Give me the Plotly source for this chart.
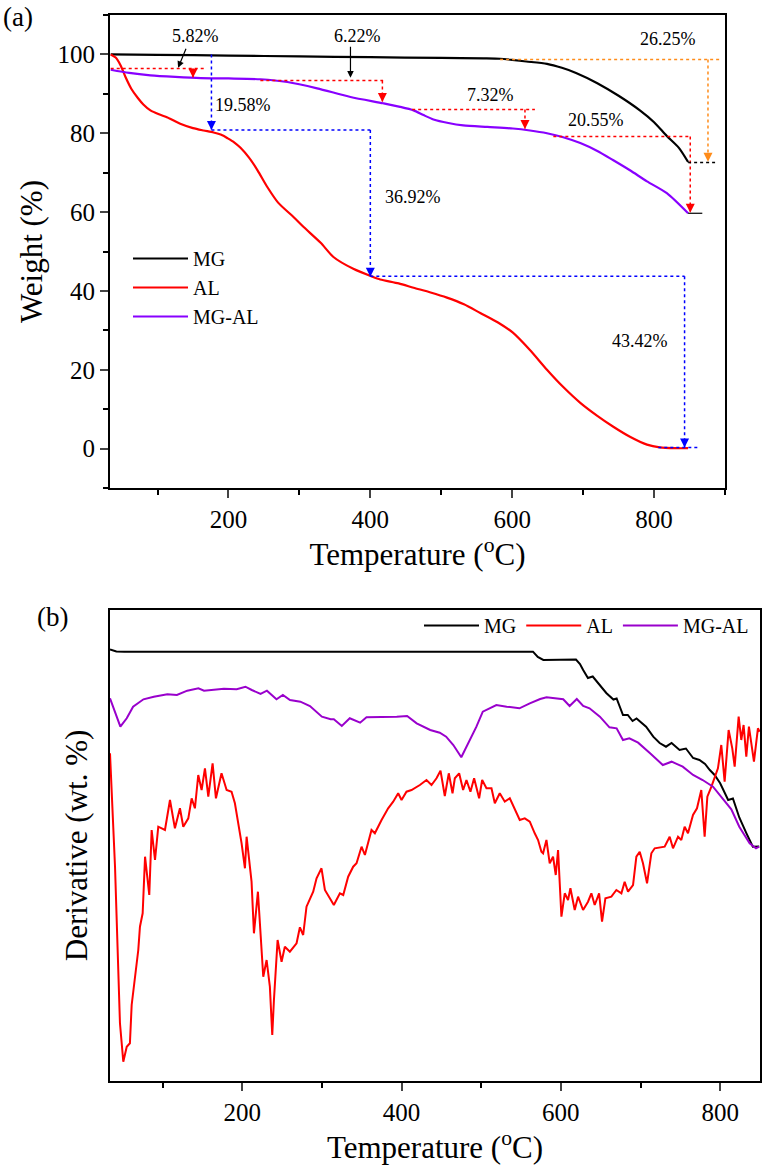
import plotly.graph_objects as go

FONT = "Liberation Serif"
W, H = 774, 1165

# ---------------- (a) TG curves ----------------
TEMP_MG = [34, 100, 200, 300, 400, 500, 560, 583, 600, 620, 649, 670, 690, 720, 750, 780, 800, 818, 835, 848]
WT_MG = [100.0, 99.9, 99.7, 99.5, 99.3, 99.1, 99.0, 98.9, 98.6, 98.2, 97.6, 96.6, 95.3, 92.7, 89.5, 85.8, 82.8, 79.3, 76.3, 72.7]

TEMP_AL = [34, 41, 48, 55, 63, 72, 80, 90, 102, 114, 132, 150, 165, 179, 190, 199, 208, 217, 229, 241,
           255, 270, 292, 306, 330, 348, 376, 403, 414, 440, 461, 485, 508, 532, 555, 580, 601, 625, 649, 672,
           696, 720, 742, 766, 790, 808, 830, 848]
WT_AL = [100, 99.2, 97.2, 94.2, 91.3, 89.0, 87.3, 85.8, 84.8, 84.0, 82.4, 81.3, 80.7, 80.2, 79.6, 78.7, 77.7, 76.3, 73.8, 70.6,
         66.3, 62.4, 58.7, 56.2, 52.2, 48.6, 45.6, 43.6, 42.9, 41.9, 40.8, 39.6, 38.3, 36.6, 34.4, 32.0, 29.4, 25.0, 20.0, 15.6,
         11.6, 8.3, 5.6, 3.0, 1.0, 0.3, 0.1, 0.1]

TEMP_MGAL = [34, 60, 90, 125, 161, 200, 245, 283, 325, 372, 418, 442, 461, 475, 489, 510, 531, 565, 601, 625,
             649, 672, 696, 720, 742, 766, 790, 818, 848]
WT_MGAL = [96.1, 95.3, 94.7, 94.3, 94.0, 93.9, 93.7, 93.0, 91.4, 89.2, 87.6, 86.7, 85.8, 84.6, 83.5, 82.6, 82.0, 81.6, 81.2, 80.7,
           80.0, 79.0, 77.5, 75.5, 73.2, 70.6, 67.8, 64.8, 59.7]

# ---------------- (b) DTG curves (arbitrary units) ----------------
DT_MG = [34, 42, 52, 565, 571, 578, 619, 624, 628, 634, 640, 649, 657, 666, 670, 678, 684, 690, 695, 707,
         716, 724, 732, 739, 749, 757, 766, 774, 781, 787, 793, 800, 810, 816, 824, 833, 841, 849]
D_MG = [-39.5, -41.5, -41.7, -41.7, -47, -50, -49.5, -54, -60, -68, -66.5, -75, -83, -89.5, -88.5, -105, -105, -111, -108.5, -116.7,
        -126.7, -133, -136.7, -133, -140, -138.5, -148, -150, -154, -160, -165, -173.3, -190, -188.5, -207.5, -223.3, -236.7, -236.5]

DT_AL = [34, 40.3, 46.5, 50.7, 55, 59, 61.2, 65.4, 69.5, 71.6, 75, 78, 83.3, 86.3, 90.5, 94.6, 103, 109.3, 115.5, 121.8,
         126, 132.3, 136.5, 140.6, 144.8, 149, 153.2, 157.4, 162.8, 167, 174, 180.4, 186.6, 190.8, 195, 199.2, 203.4, 205.5, 211.7, 214.7,
         219.7, 224.3, 226.4, 230.6, 234.7, 237.7, 239.8, 244.4, 249.4, 253.5, 259.8, 268.2, 272.4, 276.5, 280.7, 289.1, 293.3, 299.5, 303.8, 315,
         322.6, 326.8, 333, 339.3, 343.5, 349.8, 354, 362.3, 366.5, 374.9, 383.2, 389.5, 395.8, 400, 406.2, 412.5, 423, 431.3, 437.6, 443.9,
         448.9, 454.3, 459.3, 464, 466.9, 472.3, 477.3, 481.5, 486.5, 491.1, 497.4, 501.2, 506.6, 512.9, 517.1, 523.3, 529.6, 535.9, 542.2, 548.4,
         554.7, 561, 567.2, 571.4, 575.6, 577.7, 581.9, 586, 590.2, 593.6, 596.5, 600.7, 604.9, 609, 612, 617.4, 621.6, 627.9, 634.1, 638.3,
         642.5, 648, 651.7, 655.9, 663.4, 669.7, 676, 680.1, 684.3, 690.6, 694.8, 699, 703.1, 708.2, 713.6, 717.8, 730.3, 736.6, 740.8, 747.1,
         751.2, 755.4, 759.6, 765.9, 770.9, 776.3, 780.5, 783.9, 789, 797.2, 801.4, 805.6, 810.6, 815.2, 818.2, 823.2, 826.5, 829.4, 832.8, 836.1,
         842.4, 847.4, 849.5]
D_AL = [-143.3, -256.7, -413.3, -451.7, -436.7, -433.3, -395, -370, -340, -316.7, -303.3, -246.7, -285, -220, -250, -216.7, -220, -190, -218.3, -198.3,
        -216.7, -208.3, -188.3, -198.3, -165, -180, -158.3, -186.7, -153.3, -188.3, -163.3, -180, -181.7, -193.3, -213.3, -233.3, -258.3, -226.7, -271.7, -323.3,
        -281.7, -341.7, -366.7, -350, -376.7, -425, -390, -330, -351.7, -336.7, -341.7, -333.3, -317.3, -325, -296.7, -281.7, -268.3, -258.3, -280, -295,
        -283.3, -285, -266.7, -256.7, -253.3, -236.7, -245, -220, -223.3, -210, -198.3, -191.7, -183.3, -190, -181.7, -180, -175, -170, -175, -168.3,
        -160.7, -186, -163.3, -183.3, -168.3, -163.3, -180, -170, -181.7, -168.3, -188.3, -170, -178.3, -178.3, -193.3, -183.3, -191.7, -188.3, -200, -210,
        -208.3, -211.7, -223.3, -230, -241.7, -243.3, -230, -253.3, -246.7, -265, -240, -306.7, -283.3, -290, -278.3, -300, -286.7, -300, -291.7, -283.3,
        -295, -283.3, -311.7, -288.3, -286.7, -280, -283.3, -271.7, -281.7, -275, -246.7, -241.7, -253.3, -273.3, -243.3, -238.3, -236.7, -226.7, -238.3, -226.7,
        -230, -216.7, -223.3, -205, -198.3, -180, -226.7, -186.7, -176.7, -158.3, -135, -171.7, -120, -138.3, -156.7, -106.7, -130, -115, -146.7, -116.7,
        -151.7, -118.3, -121.7]

DT_MGAL = [34, 47, 55, 63, 76, 89, 106, 118, 131, 145, 152, 177, 193, 204, 212, 223, 231, 243, 251, 260,
           273, 285, 300, 311, 315, 325, 335, 348, 356, 381, 394, 407, 419, 436, 448, 456, 465, 475, 484, 494,
           502, 519, 532, 548, 561, 574, 582, 603, 611, 620, 628, 636, 649, 661, 670, 678, 686, 697, 712, 728,
           739, 753, 766, 778, 791, 804, 814, 824, 837, 845, 849]
D_MGAL = [-88.3, -116.7, -108.3, -96.7, -89.3, -86.7, -84.3, -85, -80.7, -78.3, -80.7, -78.7, -79.3, -76.7, -80, -84, -80.7, -89.3, -85, -90,
          -91.7, -96, -106.7, -109.3, -109.3, -116, -108.3, -112.7, -107.3, -107.3, -106.7, -106, -113.3, -120, -122.7, -126.7, -135, -147.3, -133.3, -116.7,
          -101.7, -95, -96.7, -98.3, -93.3, -89, -87.3, -89.3, -96, -89, -96, -98.3, -106.7, -117.3, -118.3, -130, -128.3, -132.7, -143.3, -155,
          -151.7, -156.7, -165, -170, -176.7, -190, -199.3, -216.7, -233.3, -238.3, -236.7]

X_TITLE = "Temperature (<sup>o</sup>C)"

# mass-loss annotation labels (temperature, weight, text)
LABELS = [(154, 104.8, "5.82%"), (382, 104.8, "6.22%"), (220, 87.1, "19.58%"), (460, 63.9, "36.92%"),
          (780, 27.2, "43.42%"), (570, 89.6, "7.32%"), (718, 83.3, "20.55%"), (820, 104.0, "26.25%")]

RED, BLUE, ORANGE, BLACK = "#ff0000", "#0000ff", "#ff8c1a", "#000000"
PURPLE_A, PURPLE_B = "#8800ff", "#9900cc"

# dotted guide segments: (T0, W0, T1, W1, colour)
GUIDES = [
    (34, 96.4, 166, 96.4, RED), (150, 96.4, 150, 94.2, RED),
    (245, 93.4, 418, 93.4, RED), (417, 93.4, 417, 88.0, RED),
    (459, 86.0, 632, 86.0, RED), (618, 86.0, 618, 81.2, RED),
    (658, 79.2, 851, 79.2, RED), (851, 79.2, 851, 59.9, RED),
    (176, 100, 176, 80.9, BLUE), (176, 80.8, 400, 80.8, BLUE), (400, 80.8, 400, 43.7, BLUE),
    (400, 43.7, 843, 43.7, BLUE), (843, 43.7, 843, 0.4, BLUE), (806, 0.3, 862, 0.3, BLUE),
    (583, 98.7, 893, 98.7, ORANGE), (876, 98.7, 876, 72.9, ORANGE),
    (848, 72.6, 886, 72.6, BLACK),
]
TIPS = [(150, 94.1, RED), (417, 87.9, RED), (618, 81.1, RED), (851, 59.8, RED),
        (176, 80.8, BLUE), (400, 43.6, BLUE), (843, 0.3, BLUE), (876, 72.8, ORANGE)]
BLACK_ARROWS = [(141, 101.8, 129, 96.6), (372, 102.3, 372, 94.1)]

fig = go.Figure()

# panel (a)
for t, w, name, col in [(TEMP_MG, WT_MG, "MG", BLACK), (TEMP_AL, WT_AL, "AL", RED), (TEMP_MGAL, WT_MGAL, "MG-AL", PURPLE_A)]:
    fig.add_trace(go.Scatter(x=t, y=w, mode="lines", name=name,
                             line=dict(color=col, width=2.2, shape="spline", smoothing=0.7),
                             xaxis="x", yaxis="y", legend="legend"))

for c in [RED, BLUE, ORANGE]:
    pts = [p for p in TIPS if p[2] == c]
    fig.add_trace(go.Scatter(x=[p[0] for p in pts], y=[p[1] for p in pts], mode="markers",
                             marker=dict(symbol="arrow-down", size=9, color=c, line=dict(width=0)),
                             showlegend=False, xaxis="x", yaxis="y", hoverinfo="skip"))

# panel (b)
for t, d, name, col in [(DT_MG, D_MG, "MG", BLACK), (DT_AL, D_AL, "AL", RED), (DT_MGAL, D_MGAL, "MG-AL", PURPLE_B)]:
    fig.add_trace(go.Scatter(x=t, y=d, mode="lines", name=name, line=dict(color=col, width=2),
                             xaxis="x2", yaxis="y2", legend="legend2"))

shapes = []
for t0, w0, t1, w1, c in GUIDES:
    shapes.append(dict(type="line", xref="x", yref="y", x0=t0, y0=w0, x1=t1, y1=w1,
                       line=dict(color=c, width=1.5, dash="dot")))
shapes.append(dict(type="line", xref="x", yref="y", x0=848, y0=59.7, x1=868, y1=59.7,
                   line=dict(color=BLACK, width=1.2)))

annotations = []
for t, w, txt in LABELS:
    annotations.append(dict(x=t, y=w, xref="x", yref="y", text=txt, showarrow=False,
                            xanchor="center", yanchor="middle",
                            font=dict(family=FONT, size=18, color="black")))
for ax_, ay_, x_, y_ in BLACK_ARROWS:
    annotations.append(dict(x=x_, y=y_, ax=ax_, ay=ay_, xref="x", yref="y", axref="x", ayref="y",
                            text="", showarrow=True, arrowhead=2, arrowsize=1.1, arrowwidth=1.2,
                            arrowcolor="black", standoff=0))
annotations.append(dict(x=18 / W, y=1 - 17 / H, xref="paper", yref="paper", text="(a)", showarrow=False,
                        xanchor="center", yanchor="middle", font=dict(family=FONT, size=27, color="black")))
annotations.append(dict(x=52 / W, y=1 - 617 / H, xref="paper", yref="paper", text="(b)", showarrow=False,
                        xanchor="center", yanchor="middle", font=dict(family=FONT, size=27, color="black")))

axis_common = dict(showline=True, linewidth=2, linecolor="black", mirror=True, showgrid=False,
                   zeroline=False, automargin=False, tickfont=dict(family=FONT, size=25, color="black"))
TITLE_FONT = dict(family=FONT, size=31, color="black")

fig.update_layout(
    width=W, height=H, template="none",
    paper_bgcolor="white", plot_bgcolor="white",
    margin=dict(l=0, r=0, t=0, b=0),
    font=dict(family=FONT, color="black"),
    shapes=shapes, annotations=annotations,
    xaxis=dict(domain=[110 / W, 725 / W], range=[33, 900], anchor="y",
               tickmode="linear", tick0=0, dtick=200, ticks="outside", ticklen=8, tickwidth=2,
               minor=dict(ticks="outside", ticklen=5, tickwidth=1.5, tick0=0, dtick=100, tickcolor="black"),
               title=dict(text=X_TITLE, font=TITLE_FONT, standoff=0), **axis_common),
    yaxis=dict(domain=[1 - 488 / H, 1 - 15 / H], range=[-10, 110], anchor="x",
               tickmode="linear", tick0=0, dtick=20, ticks="outside", ticklen=8, tickwidth=2,
               minor=dict(ticks="outside", ticklen=5, tickwidth=1.5, tick0=0, dtick=10, tickcolor="black"),
               title=dict(text="Weight (%)", font=TITLE_FONT, standoff=6), **axis_common),
    xaxis2=dict(domain=[110 / W, 760 / W], range=[34, 850], anchor="y2",
                tickmode="linear", tick0=0, dtick=200, ticks="outside", ticklen=8, tickwidth=2,
                minor=dict(ticks="outside", ticklen=5, tickwidth=1.5, tick0=0, dtick=100, tickcolor="black"),
                title=dict(text=X_TITLE, font=TITLE_FONT, standoff=0), **axis_common),
    yaxis2=dict(domain=[1 - 1081 / H, 1 - 610 / H], range=[-471, 0], anchor="x2",
                ticks="", showticklabels=False,
                title=dict(text="Derivative (wt. %)", font=TITLE_FONT, standoff=11), **axis_common),
    legend=dict(x=128 / W, y=1 - 239 / H, xanchor="left", yanchor="top", bgcolor="rgba(0,0,0,0)",
                itemwidth=55, font=dict(family=FONT, size=20, color="black"), borderwidth=0),
    legend2=dict(orientation="h", x=754 / W, y=1 - 606 / H, xanchor="right", yanchor="top", itemwidth=55,
                 bgcolor="rgba(0,0,0,0)", font=dict(family=FONT, size=20, color="black"), borderwidth=0),
)

fig.write_html("out.html")
